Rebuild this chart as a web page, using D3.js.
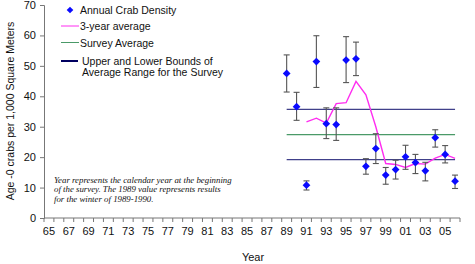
<!DOCTYPE html>
<html><head><meta charset="utf-8">
<script src="https://cdn.jsdelivr.net/npm/d3@7"></script>
<style>body{margin:0;background:#fff}svg{display:block}</style>
</head><body><svg id="c" width="475" height="264" font-family="Arial, 'Liberation Sans', sans-serif"></svg>
<script>
const axisYears = d3.range(1965, 2007);
const dataYears = [1989,1990,1991,1992,1993,1994,1995,1996,1997,1998,1999,2000,2001,2002,2003,2004,2005,2006];
const density = [47.5,36.6,10.8,51.4,31.0,30.7,51.9,52.3,17.0,22.8,14.1,15.9,20.1,18.2,15.5,26.4,20.9,12.1];
const errHigh = [53.6,41.3,12.2,59.9,36.2,36.2,59.6,57.8,19.5,27.7,16.6,19.0,23.9,20.9,18.3,29.0,23.8,14.1];
const errLow  = [41.4,32.1,9.2,42.9,26.1,25.5,44.5,46.8,14.4,17.9,11.1,12.8,16.0,14.6,12.2,23.3,18.1,9.7];
const avgYears = [1991,1992,1993,1994,1995,1996,1997,1998,1999,2000,2001,2002,2003,2004,2005,2006];
const avg3 = [31.6,32.8,31.2,37.6,37.9,44.9,40.5,30.0,17.9,17.6,16.6,17.9,17.7,19.7,20.9,19.6];
const surveyAvg = 27.4, upperBound = 35.7, lowerBound = 19.2;
const yTicks = [0,10,20,30,40,50,60,70];

const svg = d3.select("#c");
const x = d3.scaleBand().domain(axisYears).range([44,460]).padding(0);
const y = d3.scaleLinear().domain([0,70]).range([218,5]);
const cx = d => x(d) + x.bandwidth()/2;

// y axis
const ya = svg.append("g").attr("transform","translate(44,0)")
  .call(d3.axisLeft(y).tickValues(yTicks).tickSize(4).tickPadding(4));
ya.attr("font-family",null);
ya.select(".domain").attr("stroke","#777");
ya.selectAll(".tick line").attr("stroke","#777");
ya.selectAll("text").attr("font-size",11).attr("fill","#111");

// x axis with ticks between categories
const xa = svg.append("g").attr("transform","translate(0,218)");
xa.append("line").attr("x1",44).attr("x2",460).attr("stroke","#777");
xa.selectAll("line.t").data(axisYears.concat([2007])).enter().append("line")
  .attr("x1",d=> d===2007 ? 460 : x(d)).attr("x2",d=> d===2007 ? 460 : x(d))
  .attr("y1",0).attr("y2",4).attr("stroke","#777");
xa.selectAll("text").data(axisYears.filter((d,i)=>i%2===0)).enter().append("text")
  .attr("x",d=>cx(d)).attr("y",17).attr("text-anchor","middle").attr("font-size",11).attr("fill","#111")
  .text(d=>String(d%100).padStart(2,"0"));

// axis titles
svg.append("text").attr("x",253).attr("y",261).attr("text-anchor","middle").attr("font-size",11).attr("fill","#111").text("Year");
svg.append("text").attr("transform","translate(14,111) rotate(-90)").attr("text-anchor","middle").attr("font-size",10.5).attr("fill","#111").text("Age -0 crabs per 1,000 Square Meters");

// reference lines
const x0 = cx(1989), x1 = cx(2006);
svg.append("line").attr("x1",x0).attr("x2",x1).attr("y1",y(upperBound)).attr("y2",y(upperBound)).attr("stroke","#40408a").attr("stroke-width",1.2);
svg.append("line").attr("x1",x0).attr("x2",x1).attr("y1",y(lowerBound)).attr("y2",y(lowerBound)).attr("stroke","#40408a").attr("stroke-width",1.2);
svg.append("line").attr("x1",x0).attr("x2",x1).attr("y1",y(surveyAvg)).attr("y2",y(surveyAvg)).attr("stroke","#4a9a68").attr("stroke-width",1.2);

// 3-year average
svg.append("path").datum(avgYears.map((yr,i)=>[yr,avg3[i]]))
  .attr("fill","none").attr("stroke","#ff2cf0").attr("stroke-width",1.4)
  .attr("d",d3.line().x(d=>cx(d[0])).y(d=>y(d[1])));

// error bars
const eb = svg.append("g").attr("stroke","#555").attr("stroke-width",1.1);
dataYears.forEach((yr,i)=>{
  const X = cx(yr);
  eb.append("line").attr("x1",X).attr("x2",X).attr("y1",y(errHigh[i])).attr("y2",y(errLow[i]));
  eb.append("line").attr("x1",X-3).attr("x2",X+3).attr("y1",y(errHigh[i])).attr("y2",y(errHigh[i]));
  eb.append("line").attr("x1",X-3).attr("x2",X+3).attr("y1",y(errLow[i])).attr("y2",y(errLow[i]));
});

// diamonds (rotated squares)
const sq = d3.symbol().type(d3.symbolSquare).size(30);
svg.append("g").selectAll("path").data(dataYears).enter().append("path")
  .attr("transform",(d,i)=>`translate(${cx(d)},${y(density[i])}) rotate(45)`)
  .attr("d",sq).attr("fill","#0a0aff");

// legend
const lg = svg.append("g");
lg.append("path").attr("transform","translate(70,10) rotate(45)").attr("d",d3.symbol().type(d3.symbolSquare).size(22)).attr("fill","#0a0aff");
lg.append("text").attr("x",80).attr("y",14).attr("font-size",10.5).attr("fill","#111").text("Annual Crab Density");
lg.append("line").attr("x1",61).attr("x2",79).attr("y1",26).attr("y2",26).attr("stroke","#ff2cf0").attr("stroke-width",1);
lg.append("text").attr("x",80).attr("y",30).attr("font-size",10.5).attr("fill","#111").text("3-year average");
lg.append("line").attr("x1",61).attr("x2",79).attr("y1",42.5).attr("y2",42.5).attr("stroke","#4a9a68").attr("stroke-width",1);
lg.append("text").attr("x",80).attr("y",46.5).attr("font-size",10.5).attr("fill","#111").text("Survey Average");
lg.append("line").attr("x1",61).attr("x2",78).attr("y1",61).attr("y2",61).attr("stroke","#000060").attr("stroke-width",2);
lg.append("text").attr("x",82).attr("y",65).attr("font-size",10.5).attr("fill","#111").text("Upper and Lower Bounds of");
lg.append("text").attr("x",82).attr("y",76).attr("font-size",10.5).attr("fill","#111").text("Average Range for the Survey");

// note
const note = ["Year represents the calendar year at the beginning","of the survey. The 1989 value represents results","for the winter of 1989-1990."];
svg.append("g").selectAll("text").data(note).enter().append("text")
  .attr("x",54).attr("y",(d,i)=>183+i*9.3)
  .style("font-family","'Liberation Serif','Times New Roman',serif").style("font-style","italic").attr("font-size",8.8).attr("fill","#111")
  .text(d=>d);
</script></body></html>
